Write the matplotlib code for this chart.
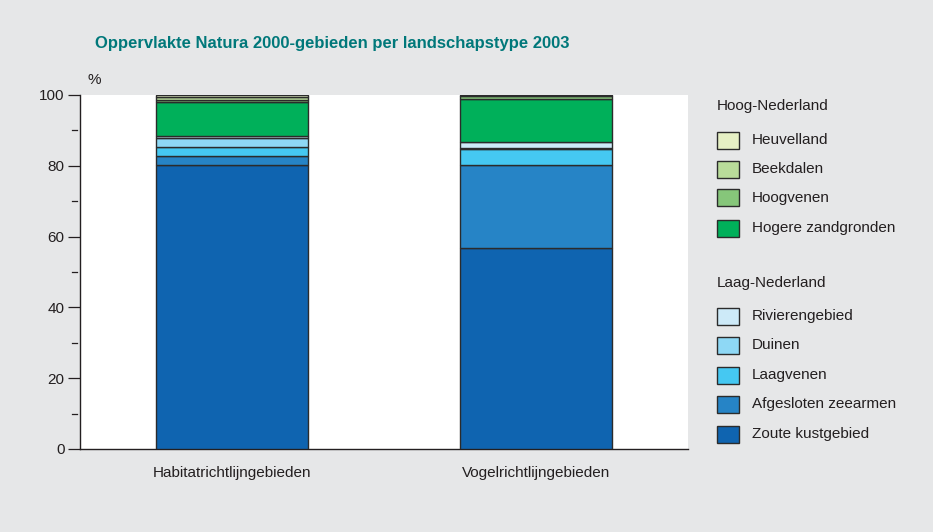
import matplotlib
matplotlib.use("Agg")
import matplotlib.pyplot as plt
from matplotlib.patches import Rectangle
import numpy as np

plt.rcParams['font.family'] = ['Liberation Sans', 'DejaVu Sans']

categories = ["Habitatrichtlijngebieden", "Vogelrichtlijngebieden"]

# stacking order bottom -> top
series_names = ["Zoute kustgebied", "Afgesloten zeearmen", "Laagvenen", "Duinen",
                "Rivierengebied", "Hogere zandgronden", "Hoogvenen", "Beekdalen",
                "Heuvelland"]
habitat = [80.2, 2.6, 2.4, 2.6, 0.6, 9.6, 0.6, 0.7, 0.7]
vogel = [56.9, 23.3, 4.5, 0.2, 1.8, 12.3, 0.6, 0.3, 0.1]

colors = {
    "Heuvelland": "#e6f0c4",
    "Beekdalen": "#b9dc9a",
    "Hoogvenen": "#86c67a",
    "Hogere zandgronden": "#00b05a",
    "Rivierengebied": "#cdeaf8",
    "Duinen": "#8ed8f5",
    "Laagvenen": "#45c8f2",
    "Afgesloten zeearmen": "#2684c6",
    "Zoute kustgebied": "#0f64b0",
}

hoog_legend = ["Heuvelland", "Beekdalen", "Hoogvenen", "Hogere zandgronden"]
laag_legend = ["Rivierengebied", "Duinen", "Laagvenen", "Afgesloten zeearmen", "Zoute kustgebied"]

W, H = 933, 532
bg = "#e6e7e8"
txt = "#231f20"
fig = plt.figure(figsize=(W / 100, H / 100), dpi=100, facecolor=bg)

ax = fig.add_axes([80 / W, 1 - 449 / H, (688 - 80) / W, (449 - 95) / H])
ax.set_facecolor("white")

x = np.arange(len(categories))
values = np.array([habitat, vogel])
bottom = np.zeros(len(categories))
for i, name in enumerate(series_names):
    ax.bar(x, values[:, i], bottom=bottom, width=0.5, color=colors[name],
           edgecolor="#2b2b2b", linewidth=1.0, zorder=3)
    bottom += values[:, i]

ax.set_xlim(-0.5, 1.5)
ax.set_ylim(0, 100)
for s in ["top", "right"]:
    ax.spines[s].set_visible(False)
for s in ["left", "bottom"]:
    ax.spines[s].set_color(txt)
    ax.spines[s].set_linewidth(1.0)

ax.set_yticks([0, 20, 40, 60, 80, 100])
ax.tick_params(axis="y", length=9, width=0.9, color=txt, labelsize=11,
               labelcolor=txt, pad=2)
ax.set_xticks(x)
ax.set_xticklabels(categories)
ax.tick_params(axis="x", length=0, labelsize=11, labelcolor=txt, pad=12)

# short minor dashes between the labelled ticks, detached from the axis line
trans = matplotlib.transforms.blended_transform_factory(ax.transAxes, ax.transData)
for yv in [10, 30, 50, 70, 90]:
    ax.plot([-0.013, -0.005], [yv, yv], color=txt, lw=0.9, transform=trans,
            clip_on=False)

ax.text(88 / W, 1 - 80 / H, "%", transform=fig.transFigure, fontsize=11,
        color=txt, ha="left", va="center")

fig.text(95 / W, 1 - 44 / H,
         "Oppervlakte Natura 2000-gebieden per landschapstype 2003",
         fontsize=12, fontweight="bold", color="#00787a", ha="left", va="center")

# legend drawn in figure pixels
def legend_row(name, yc):
    fig.add_artist(Rectangle((717 / W, 1 - (yc + 8.5) / H), 22 / W, 17 / H,
                             transform=fig.transFigure, facecolor=colors[name],
                             edgecolor="#2b2b2b", linewidth=1.0))
    fig.text(752 / W, 1 - yc / H, name, fontsize=11, color=txt,
             ha="left", va="center")

fig.text(717 / W, 1 - 106 / H, "Hoog-Nederland", fontsize=11, color=txt,
         ha="left", va="center")
for name, yc in zip(hoog_legend, [140, 169, 198, 228]):
    legend_row(name, yc)

fig.text(717 / W, 1 - 283 / H, "Laag-Nederland", fontsize=11, color=txt,
         ha="left", va="center")
for name, yc in zip(laag_legend, [316, 345, 375, 404, 434]):
    legend_row(name, yc)

fig.savefig("out.png", dpi=100, facecolor=bg)
